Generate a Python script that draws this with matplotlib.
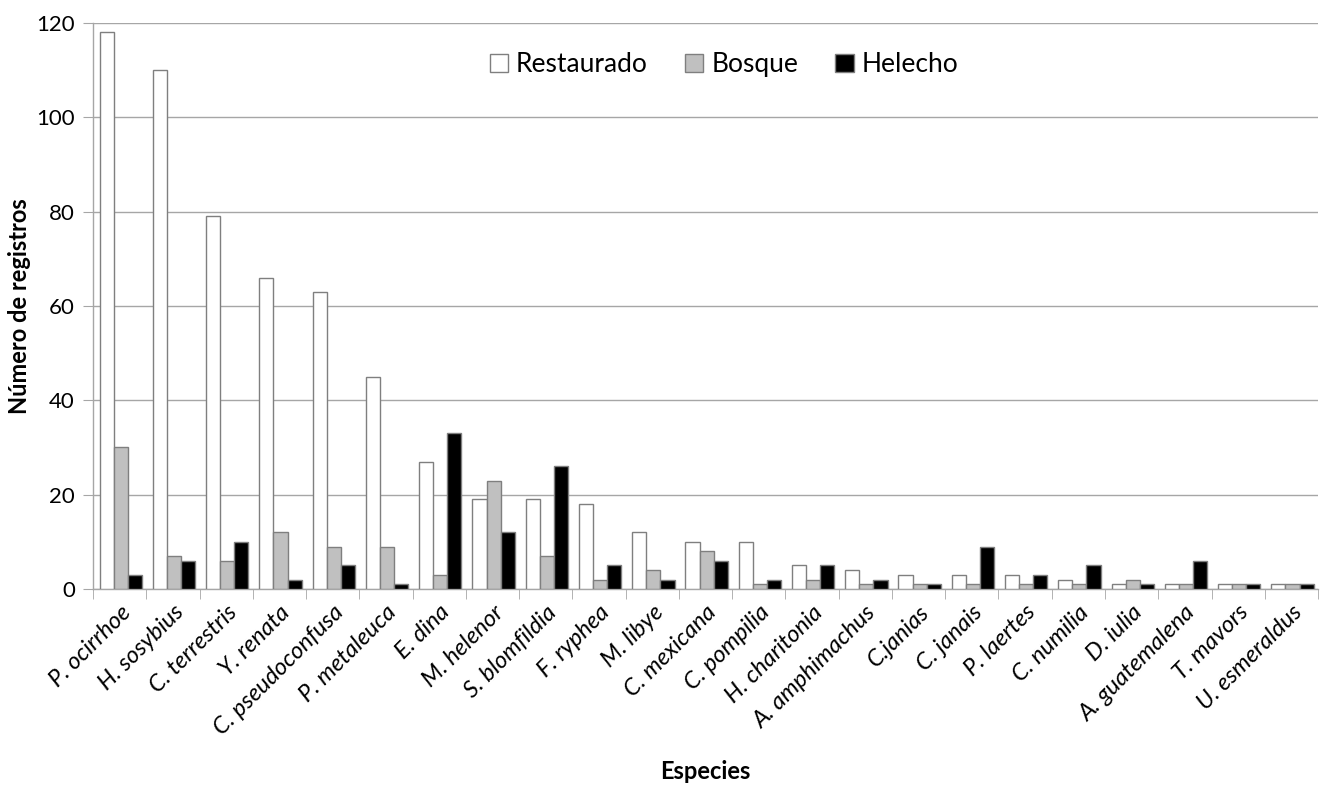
import matplotlib
matplotlib.use("Agg")
import matplotlib.pyplot as plt
import numpy as np

especies = ["P. ocirrhoe", "H. sosybius", "C. terrestris", "Y. renata", "C. pseudoconfusa",
            "P. metaleuca", "E. dina", "M. helenor", "S. blomfildia", "F. ryphea", "M. libye",
            "C. mexicana", "C. pompilia", "H. charitonia", "A. amphimachus", "C.janias",
            "C. janais", "P. laertes", "C. numilia", "D. iulia", "A. guatemalena",
            "T. mavors", "U. esmeraldus"]
restaurado = [118, 110, 79, 66, 63, 45, 27, 19, 19, 18, 12, 10, 10, 5, 4, 3, 3, 3, 2, 1, 1, 1, 1]
bosque = [30, 7, 6, 12, 9, 9, 3, 23, 7, 2, 4, 8, 1, 2, 1, 1, 1, 1, 1, 2, 1, 1, 1]
helecho = [3, 6, 10, 2, 5, 1, 33, 12, 26, 5, 2, 6, 2, 5, 2, 1, 9, 3, 5, 1, 6, 1, 1]
series_names = ["Restaurado", "Bosque", "Helecho"]
yticks = [0, 20, 40, 60, 80, 100, 120]

plt.rcParams['font.family'] = ['Lato', 'DejaVu Sans']

fig = plt.figure(figsize=(13.2, 7.9), dpi=100)
ax = fig.add_axes([0.0705, 0.2544, 0.928, 0.7166])

x = np.arange(len(especies))
w = 0.265
edge = "#7f7f7f"
for i, (vals, col) in enumerate(zip([restaurado, bosque, helecho], ["white", "#c0c0c0", "black"])):
    ax.bar(x + (i - 1) * w + 0.02, vals, width=w, color=col, edgecolor=edge, linewidth=1.0,
           label=series_names[i], zorder=3)

ax.set_xlim(-0.5, len(especies) - 0.5)
ax.set_ylim(0, 120)
ax.set_yticks(yticks)
ax.yaxis.grid(True, color="#a6a6a6", linewidth=1.0, zorder=0)
ax.set_axisbelow(True)

for s in ["top", "right"]:
    ax.spines[s].set_visible(False)
ax.spines["left"].set_color("#a6a6a6")
ax.spines["bottom"].set_color("#a6a6a6")
ax.spines["left"].set_linewidth(1.0)
ax.spines["bottom"].set_linewidth(1.0)

ax.set_xticks(x)
ax.set_xticklabels(especies, rotation=45, ha="right", rotation_mode="anchor",
                   fontsize=17, fontstyle="italic")
ax.set_xticks(np.arange(-0.5, len(especies), 1.0), minor=True)
ax.tick_params(axis="x", which="major", length=0, pad=9)
ax.tick_params(axis="x", which="minor", length=7, color="#a6a6a6", direction="out")
ax.tick_params(axis="y", length=7, color="#a6a6a6", labelsize=16, pad=6)

ax.set_ylabel("Número de registros", fontsize=17, fontweight="bold", labelpad=4)
ax.set_xlabel("Especies", fontsize=17, fontweight="bold", labelpad=15)

ax.legend(loc="upper center", bbox_to_anchor=(0.515, 0.99), ncol=3, frameon=False,
          fontsize=19, handlelength=0.7, handleheight=0.7, columnspacing=1.4,
          handletextpad=0.3)

fig.savefig("out.png", dpi=100)
